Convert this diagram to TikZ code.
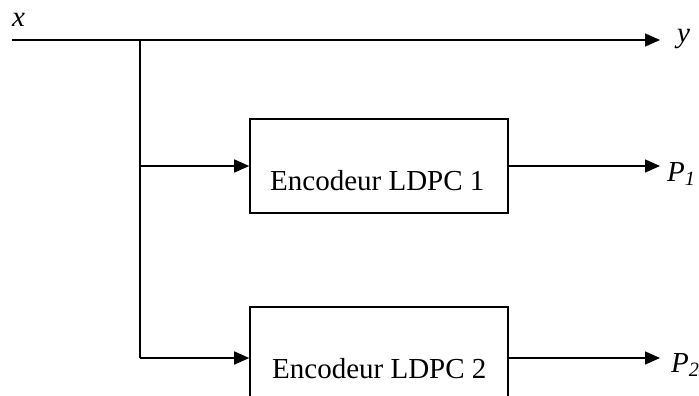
\documentclass[tikz,border=0pt]{standalone}
\usepackage{fontspec}
\setmainfont{Liberation Serif}
\usepackage{tikz}
\usetikzlibrary{arrows.meta,positioning}

\begin{document}
\begin{tikzpicture}[x=1pt,y=-1pt]
      \tikzstyle{encbox} = [rectangle, draw, line width=1.6pt, minimum width=258pt, minimum height=94pt, inner sep=0pt]
      \tikzstyle{lbl} = [font=\fontsize{29}{34}\selectfont, inner sep=0pt]
      \tikzstyle{sig} = [line width=1.6pt]
      \tikzstyle{arr} = [sig, -{Triangle[length=15pt,width=13pt]}]

      \useasboundingbox (0,0) rectangle (699,396);
      \clip (0,0) rectangle (699,396);

      \coordinate (xin) at (12,40);
      \coordinate (yout) at (660,40);
      \coordinate (split) at (140,40);
      \coordinate (j1) at (140,166);
      \coordinate (j2) at (140,358);
      \coordinate (p1) at (660,166);
      \coordinate (p2) at (660,358);

      \node[lbl, anchor=base west] (xlbl) at (12,27) {\textit{x}};
      \node[lbl, anchor=base west] (ylbl) at (677,43) {\textit{y}};

      \node[encbox] (enc1) at (379,166) {};
      \node[encbox] (enc2) at (379,354) {};
      \node[lbl, anchor=base west] (t1) at (270,190) {Encodeur LDPC 1};
      \node[lbl, anchor=base west] (t2) at (272,378) {Encodeur LDPC 2};

      \node[lbl, anchor=base west] (p1lbl) at (667,181) {\textit{P}\textsubscript{\textit{1}}};
      \node[lbl, anchor=base west] (p2lbl) at (671,372) {\textit{P}\textsubscript{\textit{2}}};

      \draw[arr] (xin) -- (yout);
      \draw[sig] (split) -- (j2);

      \draw[arr] (j1) -- (enc1.west);
      \draw[arr] (j2) -- (enc2.west |- j2);

      \draw[arr] (enc1.east) -- (p1);
      \draw[arr] (enc2.east |- p2) -- (p2);
    \end{tikzpicture}
\end{document}
